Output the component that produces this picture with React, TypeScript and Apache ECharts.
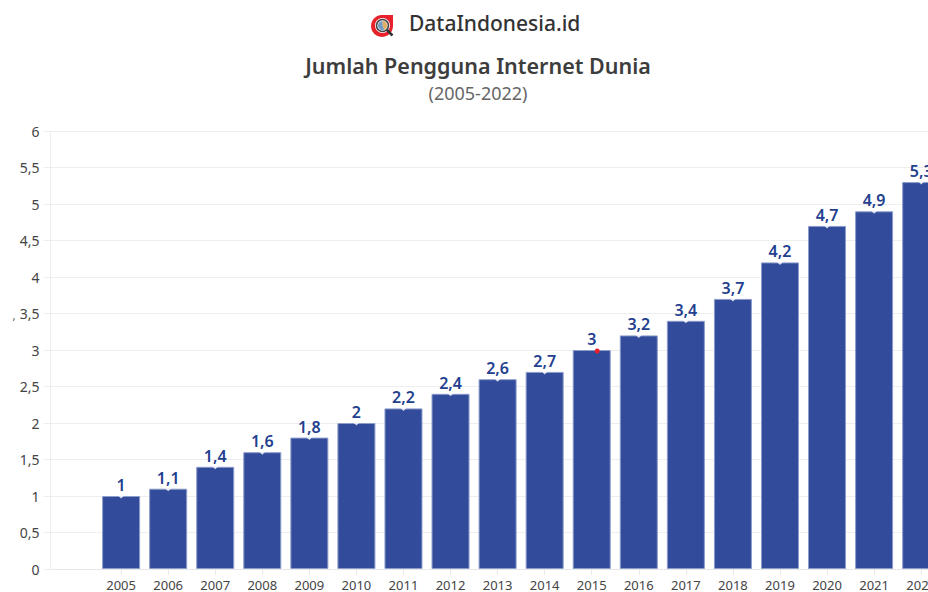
import React, { useEffect, useRef } from "react";
import * as echarts from "echarts";

const categories = ["", "2005", "2006", "2007", "2008", "2009", "2010", "2011", "2012", "2013", "2014", "2015", "2016", "2017", "2018", "2019", "2020", "2021", "2022"];
const values: (number | null)[] = [null, 1, 1.1, 1.4, 1.6, 1.8, 2, 2.2, 2.4, 2.6, 2.7, 3, 3.2, 3.4, 3.7, 4.2, 4.7, 4.9, 5.3];
const titleText = "Jumlah Pengguna Internet Dunia";
const subtitleText = "(2005-2022)";
const brandText = "DataIndonesia.id";
const highlightYear = "2015";
const FONT = "'Noto Sans', sans-serif";
const comma = (v: number) => String(v).replace(".", ",");

export default function App() {
  const ref = useRef<HTMLDivElement>(null);
  useEffect(() => {
    const chart = echarts.init(ref.current!, null, { renderer: "svg" });
    chart.setOption({
      animation: false,
      backgroundColor: "#ffffff",
      textStyle: { fontFamily: FONT },
      grid: { left: 50.5, top: 131, width: 894.2, height: 438, containLabel: false, outerBoundsMode: "none" },
      graphic: [
        { type: "circle", shape: { cx: 382, cy: 26, r: 11 }, style: { fill: "#e8222c" } },
        { type: "rect", shape: { x: 382, y: 15, width: 11, height: 11 }, style: { fill: "#e8222c" } },
        { type: "circle", shape: { cx: 382.5, cy: 25.5, r: 7.5 }, style: { fill: "#ffffff" } },
        { type: "circle", shape: { cx: 382.5, cy: 25.5, r: 6 }, style: { fill: "#f4f4f4", stroke: "#444444", lineWidth: 1.5 } },
        { type: "sector", shape: { cx: 382.5, cy: 25.5, r: 4.5, r0: 0, startAngle: -1.6, endAngle: 1.2 }, style: { fill: "#e0b060" } },
        { type: "sector", shape: { cx: 382.5, cy: 25.5, r: 4.5, r0: 0, startAngle: 1.2, endAngle: 4.7 }, style: { fill: "#6f9cc4" } },
        { type: "line", shape: { x1: 387, y1: 30, x2: 392.5, y2: 35.5 }, style: { stroke: "#333333", lineWidth: 2.5 } },
        { type: "text", x: 409, y: 23, style: { text: brandText, font: "500 21px " + FONT, fill: "#333333", align: "left", verticalAlign: "middle" } },
        { type: "text", x: 478, y: 65.5, style: { text: titleText, font: "600 21.5px " + FONT, fill: "#3d3d3d", align: "center", verticalAlign: "middle" } },
        { type: "text", x: 478, y: 93, style: { text: subtitleText, font: "400 18px " + FONT, fill: "#666666", align: "center", verticalAlign: "middle" } },
        { type: "text", x: 14, y: 315, style: { text: ",", font: "400 11px " + FONT, fill: "#555555", align: "center", verticalAlign: "middle" } },
      ],
      xAxis: {
        type: "category",
        data: categories,
        boundaryGap: true,
        axisLine: { lineStyle: { color: "#e8e8e8", width: 1 } },
        axisTick: { show: true, alignWithLabel: true, length: 6, interval: (_i: number, v: string) => v !== "", lineStyle: { color: "#e8e8e8" } },
        axisLabel: { color: "#444444", fontSize: 13, margin: 9, interval: 0, fontFamily: FONT },
      },
      yAxis: {
        type: "value",
        min: 0,
        max: 6,
        interval: 0.5,
        axisLine: { show: true, lineStyle: { color: "#eeeeee", width: 1 } },
        axisTick: { show: true, length: 7, lineStyle: { color: "#eeeeee" } },
        splitLine: { show: true, lineStyle: { color: "#eeeeee", width: 1 } },
        axisLabel: { color: "#444444", fontSize: 14, margin: 11, fontFamily: FONT, formatter: (v: number) => comma(v) },
      },
      series: [
        {
          type: "bar",
          data: values,
          barWidth: 38,
          itemStyle: { color: "#324c9b", borderColor: "#8c9ccb", borderWidth: 1 },
          label: {
            show: true,
            position: "top",
            distance: 3,
            color: "#23408f",
            fontSize: 16,
            fontWeight: 600,
            fontFamily: FONT,
            formatter: (p: any) => comma(p.value),
          },
          markPoint: {
            silent: true,
            symbol: "circle",
            symbolSize: 5,
            symbolOffset: [5.5, 1],
            itemStyle: { color: "#e8202a" },
            label: { show: false },
            data: [{ coord: [highlightYear, 3] }],
          },
        },
        {
          type: "scatter",
          silent: true,
          z: 5,
          symbol: "triangle",
          symbolRotate: 180,
          symbolSize: [6, 3],
          symbolOffset: [0, 1],
          itemStyle: { color: "#ffffff" },
          label: { show: false },
          data: values.map((v, i) => (categories[i] === highlightYear ? null : v)),
        },
      ],
    });
    return () => chart.dispose();
  }, []);
  return <div ref={ref} style={{ position: "absolute", left: 0, top: 0, width: 928, height: 592, overflow: "hidden" }} />;
}
